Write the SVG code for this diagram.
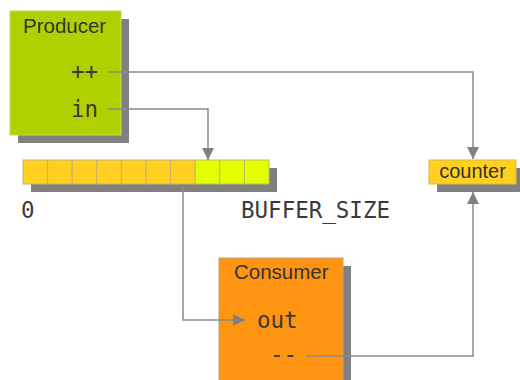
<svg xmlns="http://www.w3.org/2000/svg" width="520" height="380" viewBox="0 0 520 380">
<defs>
<marker id="arr" markerUnits="userSpaceOnUse" markerWidth="12" markerHeight="12" viewBox="0 0 10 10" refX="10" refY="5" orient="auto">
<path d="M0,0 L10,5 L0,10 z" fill="#808080"/>
</marker>
<style>
.shadow{fill:#808080}
.title{font-family:"Liberation Sans",Arial,sans-serif;font-size:20.5px;fill:#333}
.mono{font-family:"DejaVu Sans Mono",monospace;font-size:22.5px;fill:#3a3a3a}
.wire{fill:none;stroke:#8a8a8a;stroke-width:1.5}
.cellA{fill:#FFD020;stroke:#c8b070;stroke-width:1}
.cellB{fill:#E4FF00;stroke:#b8c060;stroke-width:1}
</style>
</defs>
<rect width="520" height="380" fill="#fff"/>
<g id="producer">
<rect class="shadow" x="18" y="19" width="111" height="124"/>
<rect x="10" y="11" width="111" height="124" fill="#B0D000" stroke="#c4dc50" stroke-width="1"/>
<text class="title" x="23" y="33">Producer</text>
<text class="mono" x="98" y="79" text-anchor="end">++</text>
<text class="mono" x="98" y="117" text-anchor="end">in</text>
</g>
<g id="buffer">
<rect class="shadow" x="31" y="168" width="246" height="24"/>
<rect class="cellA" x="23" y="160" width="24.6" height="24"/>
<rect class="cellA" x="47.6" y="160" width="24.6" height="24"/>
<rect class="cellA" x="72.2" y="160" width="24.6" height="24"/>
<rect class="cellA" x="96.8" y="160" width="24.6" height="24"/>
<rect class="cellA" x="121.4" y="160" width="24.6" height="24"/>
<rect class="cellA" x="146" y="160" width="24.6" height="24"/>
<rect class="cellA" x="170.6" y="160" width="24.6" height="24"/>
<rect class="cellB" x="195.2" y="160" width="24.6" height="24"/>
<rect class="cellB" x="219.8" y="160" width="24.6" height="24"/>
<rect class="cellB" x="244.4" y="160" width="24.6" height="24"/>
<text class="mono" x="21" y="218">0</text>
<text class="mono" x="241" y="218">BUFFER_SIZE</text>
</g>
<g id="counter">
<rect class="shadow" x="437" y="168" width="87" height="24"/>
<rect x="429" y="160" width="87" height="24" fill="#FFD020" stroke="#d8b840" stroke-width="1"/>
<text class="title" x="472.5" y="178" text-anchor="middle" style="font-size:20px">counter</text>
</g>
<g id="consumer">
<rect class="shadow" x="227" y="266" width="124" height="130"/>
<rect x="219" y="258" width="124" height="130" fill="#FF9412" stroke="#c8a070" stroke-width="1"/>
<text class="title" x="234" y="279">Consumer</text>
<text class="mono" x="257" y="328">out</text>
<text class="mono" x="270" y="362">--</text>
</g>
<g id="connectors">
<path class="wire" d="M108,72 H473 V159" marker-end="url(#arr)"/>
<path class="wire" d="M108,109 H208 V160" marker-end="url(#arr)"/>
<path class="wire" d="M183,184 V320 H245" marker-end="url(#arr)"/>
<path class="wire" d="M306,356 H473 V192" marker-end="url(#arr)"/>
</g>
</svg>
